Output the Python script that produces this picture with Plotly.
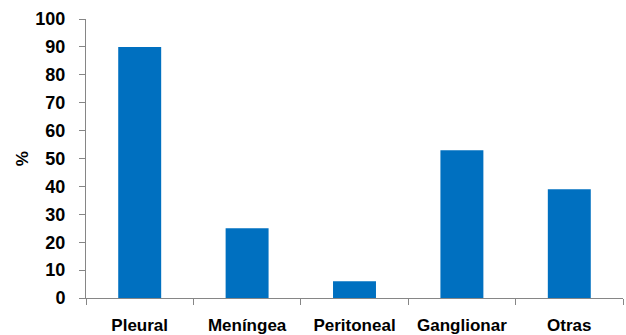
import plotly.graph_objects as go

# Extrapulmonary tuberculosis localisations (%)
categories = ["Pleural", "Meníngea", "Peritoneal", "Ganglionar", "Otras"]
percentages = [90, 25, 6, 53, 39]
y_ticks = [0, 10, 20, 30, 40, 50, 60, 70, 80, 90, 100]

BAR_COLOR = "#0070C0"
AXIS_COLOR = "#868686"
FONT = "Liberation Sans, Arial, sans-serif"

fig = go.Figure(
    go.Bar(
        x=categories,
        y=percentages,
        marker=dict(color=BAR_COLOR, line=dict(width=0)),
        width=0.4,
    )
)

fig.update_layout(
    width=626,
    height=335,
    margin=dict(l=86, r=3, t=19, b=37),
    paper_bgcolor="white",
    plot_bgcolor="white",
    showlegend=False,
    font=dict(family=FONT, color="black"),
)

fig.update_xaxes(
    automargin=False,
    showline=True,
    linecolor=AXIS_COLOR,
    linewidth=1,
    ticks="outside",
    tickson="boundaries",
    ticklen=6,
    tickcolor=AXIS_COLOR,
    showgrid=False,
    tickangle=0,
    ticklabelstandoff=12,
    tickfont=dict(family=FONT, size=17, color="black", weight="bold"),
)

fig.update_yaxes(
    automargin=False,
    range=[0, 100],
    tickvals=y_ticks,
    showline=True,
    linecolor=AXIS_COLOR,
    linewidth=1,
    ticks="outside",
    ticklen=6,
    tickcolor=AXIS_COLOR,
    showgrid=False,
    zeroline=False,
    ticklabelstandoff=10,
    tickfont=dict(family=FONT, size=18, color="black", weight="bold"),
)

# Rotated y-axis caption
fig.add_annotation(
    text="%",
    xref="paper", yref="paper",
    x=-0.118, y=0.5,
    xanchor="center", yanchor="middle",
    textangle=-90,
    showarrow=False,
    font=dict(family=FONT, size=17, color="black", weight="bold"),
)

fig.write_html("out.html")
